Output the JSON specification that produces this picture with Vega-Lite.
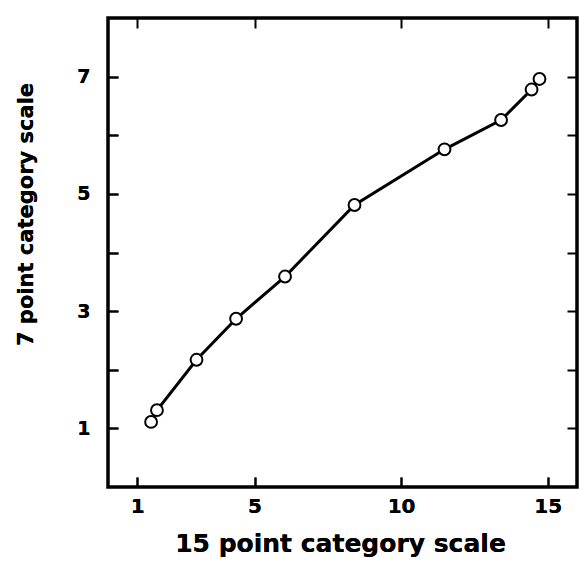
{
  "$schema": "https://vega.github.io/schema/vega-lite/v6.json",
  "autosize": "none",
  "width": 469,
  "height": 469,
  "padding": {"left": 108, "top": 18, "right": 2, "bottom": 87},
  "background": "white",
  "config": {
    "view": {"stroke": "black", "strokeWidth": 3.5},
    "axis": {"grid": false, "domain": false, "tickColor": "black", "tickWidth": 2, "labelColor": "black", "titleColor": "black", "labelFont": "DejaVu Sans", "titleFont": "DejaVu Sans", "labelFontWeight": "bold", "titleFontWeight": "bold"}
  },
  "data": {"values": [
    {"x15": 1.47, "y7": 1.11},
    {"x15": 1.67, "y7": 1.31},
    {"x15": 3.02, "y7": 2.17},
    {"x15": 4.37, "y7": 2.87},
    {"x15": 6.04, "y7": 3.59},
    {"x15": 8.41, "y7": 4.81},
    {"x15": 11.48, "y7": 5.76},
    {"x15": 13.41, "y7": 6.26},
    {"x15": 14.45, "y7": 6.78},
    {"x15": 14.72, "y7": 6.96}
  ]},
  "encoding": {
    "x": {"field": "x15", "type": "quantitative", "scale": {"domain": [0, 16], "nice": false, "zero": false},
      "axis": {"orient": "bottom", "values": [1, 5, 10, 15], "tickSize": -10, "labelPadding": 19, "labelFontSize": 20, "title": "15 point category scale", "titleFontSize": 25, "titleBaseline": "middle", "titleX": 232, "titleY": 56}},
    "y": {"field": "y7", "type": "quantitative", "scale": {"domain": [0, 8], "nice": false, "zero": false},
      "axis": {"orient": "left", "values": [1, 2, 3, 4, 5, 6, 7], "tickSize": -10, "labelPadding": 28, "labelFontSize": 19, "labelExpr": "datum.value % 2 == 1 ? datum.label : ''", "title": "7 point category scale", "titleFontSize": 21, "titleAngle": -90, "titleAlign": "center", "titleBaseline": "middle", "titleX": -82, "titleY": 196}}
  },
  "layer": [
    {"mark": {"type": "line", "color": "black", "strokeWidth": 3}},
    {"mark": {"type": "point", "filled": true, "fill": "white", "stroke": "black", "strokeWidth": 2, "size": 140, "opacity": 1}},
    {"mark": {"type": "point", "opacity": 0},
     "encoding": {
       "x": {"field": "x15", "type": "quantitative", "axis": {"orient": "top", "values": [1, 5, 10, 15], "tickSize": -10, "labels": false, "title": null}},
       "y": {"field": "y7", "type": "quantitative", "axis": {"orient": "right", "values": [1, 2, 3, 4, 5, 6, 7], "tickSize": -10, "labels": false, "title": null}}
     }}
  ],
  "resolve": {"axis": {"x": "independent", "y": "independent"}}
}
